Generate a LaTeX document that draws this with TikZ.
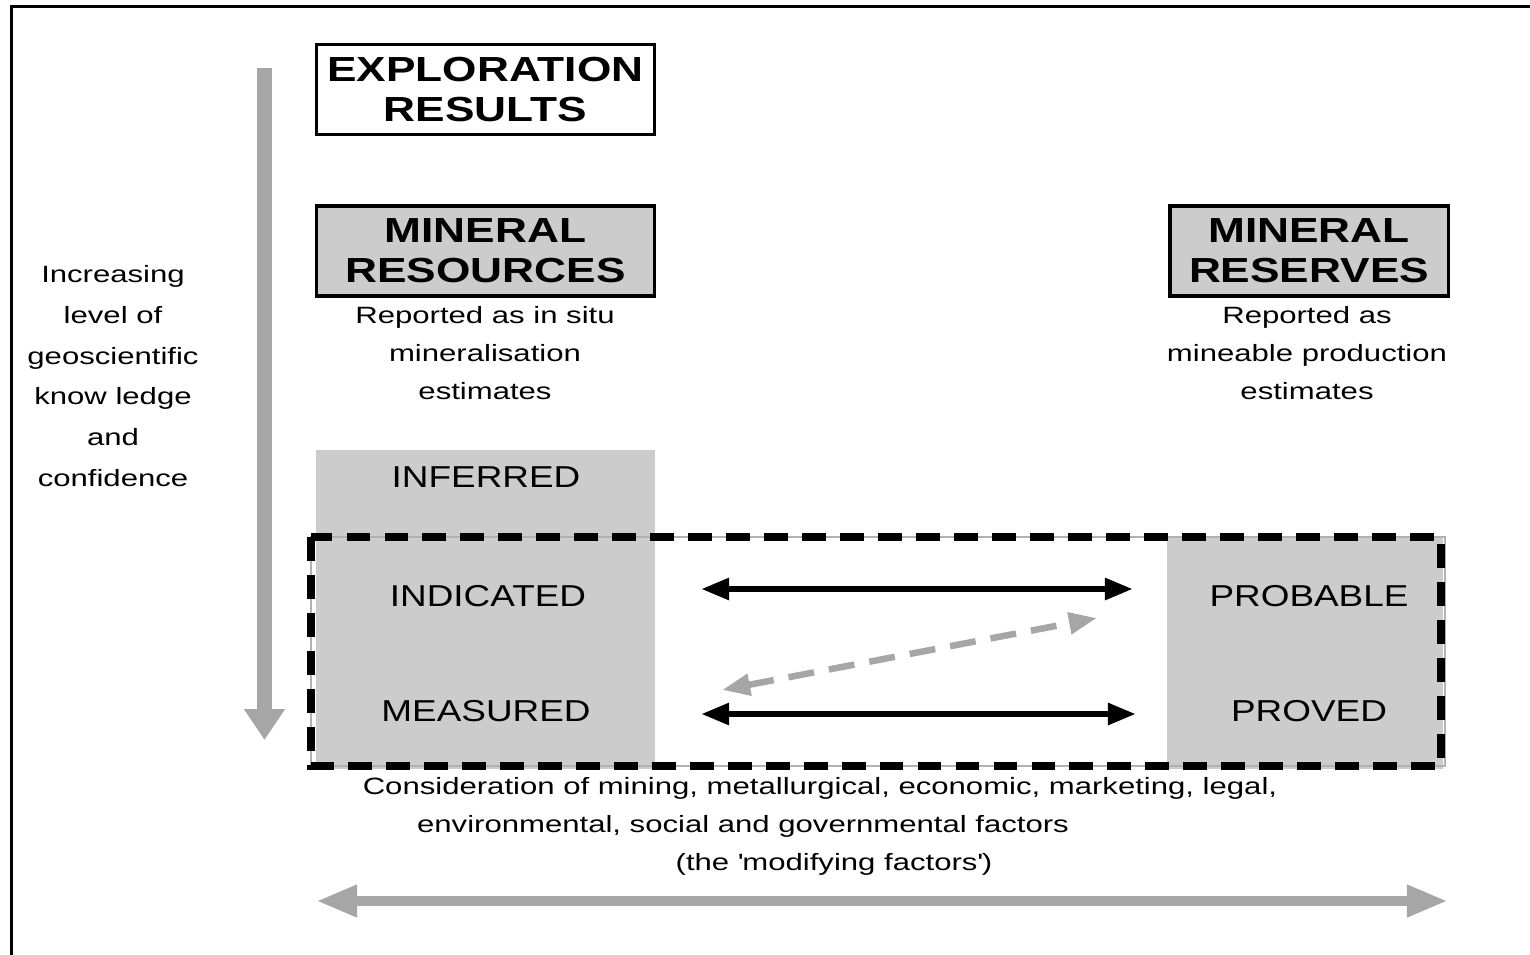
\documentclass[tikz,border=0pt]{standalone}
\usepackage{fontspec}
\setmainfont{Liberation Sans}[FakeStretch=1.32]
\newfontfamily\headfont{Liberation Sans}[FakeStretch=1.27]
\newfontfamily\gradefont{Liberation Sans}[FakeStretch=1.22]
\usetikzlibrary{arrows.meta}
\definecolor{boxgray}{RGB}{204,204,204}
\definecolor{arrowgray}{RGB}{166,166,166}

\begin{document}
\begin{tikzpicture}[x=0.01cm,y=-0.01cm,
    head/.style={draw,line width=0.9pt,minimum width=3.37cm,minimum height=0.9cm,
        inner sep=0pt,align=center,font=\headfont\bfseries\fontsize{9.9}{11.4}\selectfont},
    note/.style={inner sep=0pt,align=center,font=\fontsize{6.7}{10.8}\selectfont},
    grade/.style={inner sep=0pt,font=\gradefont\fontsize{8.6}{10}\selectfont},
    link/.style={line width=1.85pt,{Triangle[length=8pt,width=5.9pt]}-{Triangle[length=8pt,width=5.9pt]}}]
    \useasboundingbox (0,0) rectangle (1530,954);
    \draw[overlay,line width=0.8pt] (1540,6.3) -- (11.3,6.3) -- (11.3,960);

    \fill[boxgray] (316,450) rectangle (655,769);
    \fill[boxgray] (1167,538) rectangle (1443,769);
    \draw[black!30,line width=0.4pt] (311,537) rectangle (1445,766);
    \draw[line width=2.1pt,dash pattern=on 6.8pt off 4pt] (311,537) rectangle (1441,766);

    \node [head] (exploration) at (485.5,89.5) {EXPLORATION\\RESULTS};
    \node [head,fill=boxgray] (resources) at (485.5,251) {MINERAL\\RESOURCES};
    \node [head,fill=boxgray,minimum width=2.78cm] (reserves) at (1309,251) {MINERAL\\RESERVES};

    \node [note] (resnote) at (485,353) {Reported as in situ\\mineralisation\\estimates};
    \node [note] (rsvnote) at (1307,353) {Reported as\\mineable production\\estimates};
    \node [note,font=\fontsize{6.7}{11.6}\selectfont] (knowledge) at (113,376)
        {Increasing\\level of\\geoscientific\\know ledge\\and\\confidence};

    \node [grade] (inferred) at (486,477) {INFERRED};
    \node [grade] (indicated) at (488,596) {INDICATED};
    \node [grade] (measured) at (486,711) {MEASURED};
    \node [grade] (probable) at (1309,596) {PROBABLE};
    \node [grade] (proved) at (1309,711) {PROVED};

    \node [note] (factors1) at (820,788) {Consideration of mining, metallurgical, economic, marketing, legal,};
    \node [note] (factors2) at (743,826) {environmental, social and governmental factors};
    \node [note] (factors3) at (834,864) {(the \textquotesingle modifying factors\textquotesingle)};

    \coordinate (conftop) at (264.5,68);
    \coordinate (confbot) at (264.5,740);
    \coordinate (modleft) at (316,901);
    \coordinate (modright) at (1448,901);
    \coordinate (indleft) at (701,589);
    \coordinate (indright) at (1133,589);
    \coordinate (mealeft) at (701,714);
    \coordinate (mearight) at (1136,714);
    \coordinate (convleft) at (722,690);
    \coordinate (convright) at (1097,618);

    \draw[arrowgray,line width=4.3pt,-{Triangle[length=8.8pt,width=11.1pt]}] (conftop) -- (confbot);
    \draw[arrowgray,line width=3.1pt,{Triangle[length=11.7pt,width=8.5pt]}-{Triangle[length=11.7pt,width=8.5pt]}] (modleft) -- (modright);
    \draw[link] (indleft) -- (indright);
    \draw[link] (mealeft) -- (mearight);
    \draw[link,arrowgray,dash pattern=on 7.4pt off 4.3pt] (convleft) -- (convright);
\end{tikzpicture}
\end{document}
